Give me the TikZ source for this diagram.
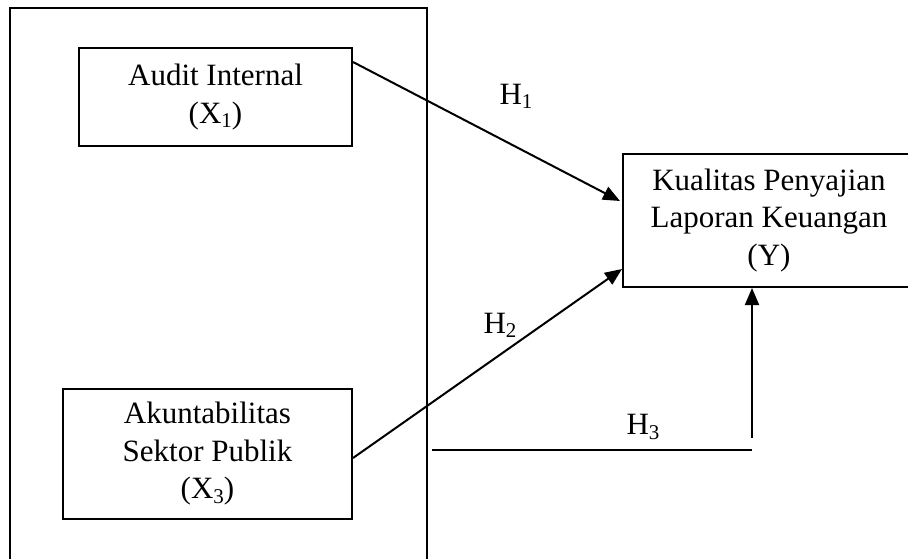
\documentclass[tikz,border=0pt]{standalone}
\usepackage{fontspec}
\setmainfont{Liberation Serif}
\usetikzlibrary{arrows.meta,calc}
\newcommand\mysb[1]{\raisebox{-0.3ex}{\fontsize{21}{21}\selectfont #1}}
\begin{document}
\begin{tikzpicture}[x=1pt,y=-1pt,
  every node/.style={font=\fontsize{31}{37.5}\selectfont},
  box/.style={draw,line width=2pt,align=center,inner sep=0pt},
  conn/.style={line width=2pt},
  arr/.style={conn,-{Triangle[length=17pt,width=14pt]}},
  lbl/.style={inner sep=0pt}]
\useasboundingbox (0,0) rectangle (908,558);
\draw[line width=2pt] (10,575) -- (10,8) -- (427,8) -- (427,575);
\node[box,minimum width=273pt,minimum height=98pt] (audit) at (215.5,97) {Audit Internal\\(X\mysb{1})};
\node[box,minimum width=289pt,minimum height=130pt] (akun) at (207.5,454) {Akuntabilitas\\Sektor Publik\\(X\mysb{3})};
\node[box,minimum width=292pt,minimum height=133pt] (kual) at (769,220.5) {Kualitas Penyajian\\Laporan Keuangan\\(Y)};
\draw[arr] ($(audit.north east)+(0,15)$) -- ($(kual.north west)+(-2,48)$);
\draw[arr] ($(akun.east)+(0,4)$) -- ($(kual.south west)+(0,-19)$);
\coordinate (h3a) at (432,450);
\coordinate (h3b) at (752,450);
\coordinate (h3c) at (752,438);
\draw[conn] (h3a) -- (h3b);
\draw[arr] (h3c) -- (h3c |- kual.south);
\node[lbl] (h1) at (516,96) {H\mysb{1}};
\node[lbl] (h2) at (500,325) {H\mysb{2}};
\node[lbl] (h3) at (643,427) {H\mysb{3}};
\end{tikzpicture}
\end{document}
